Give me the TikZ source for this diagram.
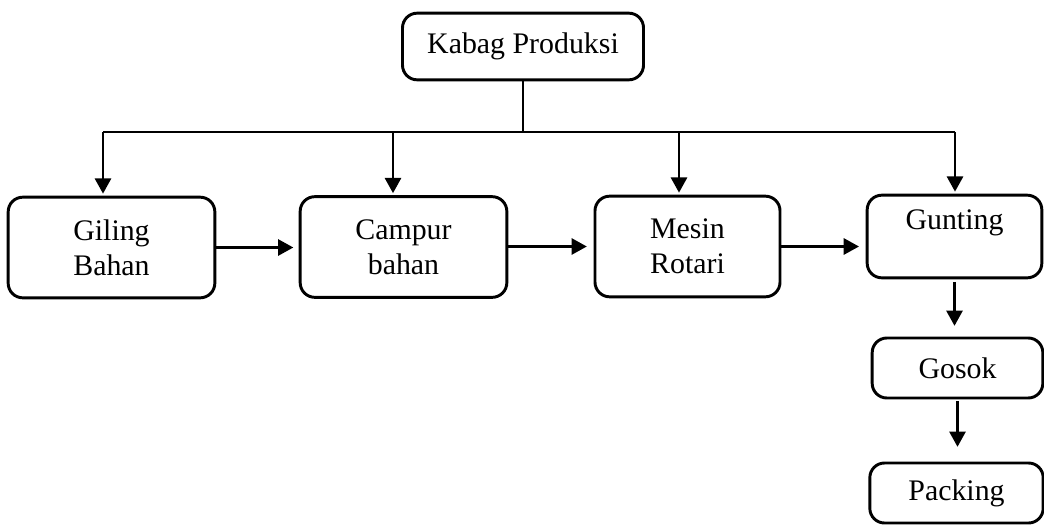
\documentclass[tikz,border=0pt]{standalone}
\usepackage{fontspec}
\setmainfont{Liberation Serif}
\usetikzlibrary{arrows.meta}

\tikzset{every picture/.style={line width=2.2pt}}
\tikzset{
  unit/.style={draw, rounded corners=11pt, align=center, inner sep=0pt,
    font=\fontsize{22.4}{26}\selectfont},
  flow/.style={-{Triangle[width=12pt,length=11.5pt]}}
}

\begin{document}
\begin{tikzpicture}[x=0.75pt,y=0.75pt,yscale=-1,xscale=1]
\useasboundingbox (0,0) rectangle (1044,524);

% Boxes
\node [unit, minimum width=180.75pt, minimum height=50pt] (kabag) at (523,46.5) {Kabag Produksi};
\node [unit, minimum width=155pt, minimum height=75.5pt] (giling) at (111.5,247.5) {Giling\\Bahan};
\node [unit, minimum width=155pt, minimum height=75.5pt] (campur) at (403.5,247) {Campur\\bahan};
\node [unit, minimum width=138.75pt, minimum height=75.5pt] (mesin) at (687.5,246.5) {Mesin\\Rotari};
\node [unit, minimum width=131pt, minimum height=62pt] (gunting) at (954.5,236.5) {Gunting\\\mbox{}};
\node [unit, minimum width=128pt, minimum height=45pt] (gosok) at (957.5,368) {Gosok};
\node [unit, minimum width=130pt, minimum height=45pt] (packing) at (956.5,493) {Packing};

% Bus line
\coordinate (busL) at (103,132);
\coordinate (busR) at (955,132);
\coordinate (bus2) at (393,132);
\coordinate (bus3) at (679,132);
\draw (kabag.south) -- (kabag.south |- busL);
\draw (busL) -- (busR);

% Arrows down from bus
\draw [flow, shorten >=1.5pt] (busL) -- (busL |- giling.north);
\draw [flow, shorten >=1.5pt] (bus2) -- (bus2 |- campur.north);
\draw [flow, shorten >=1.5pt] (bus3) -- (bus3 |- mesin.north);
\draw [flow, shorten >=1.5pt] (busR) -- (busR |- gunting.north);

% Arrows along the line
\draw [flow, shorten >=4pt] (giling.east) -- (giling.east -| campur.west);
\draw [flow, shorten >=5pt] (campur.east |- mesin.west) -- (mesin.west);
\draw [flow, shorten >=5pt] (mesin.east) -- (mesin.east -| gunting.west);
\draw [flow, shorten <=2pt, shorten >=8pt] (gunting.south) -- (gunting.south |- gosok.north);
\draw [flow, shorten <=1pt, shorten >=11pt] (gosok.south) -- (gosok.south |- packing.north);

\end{tikzpicture}
\end{document}
